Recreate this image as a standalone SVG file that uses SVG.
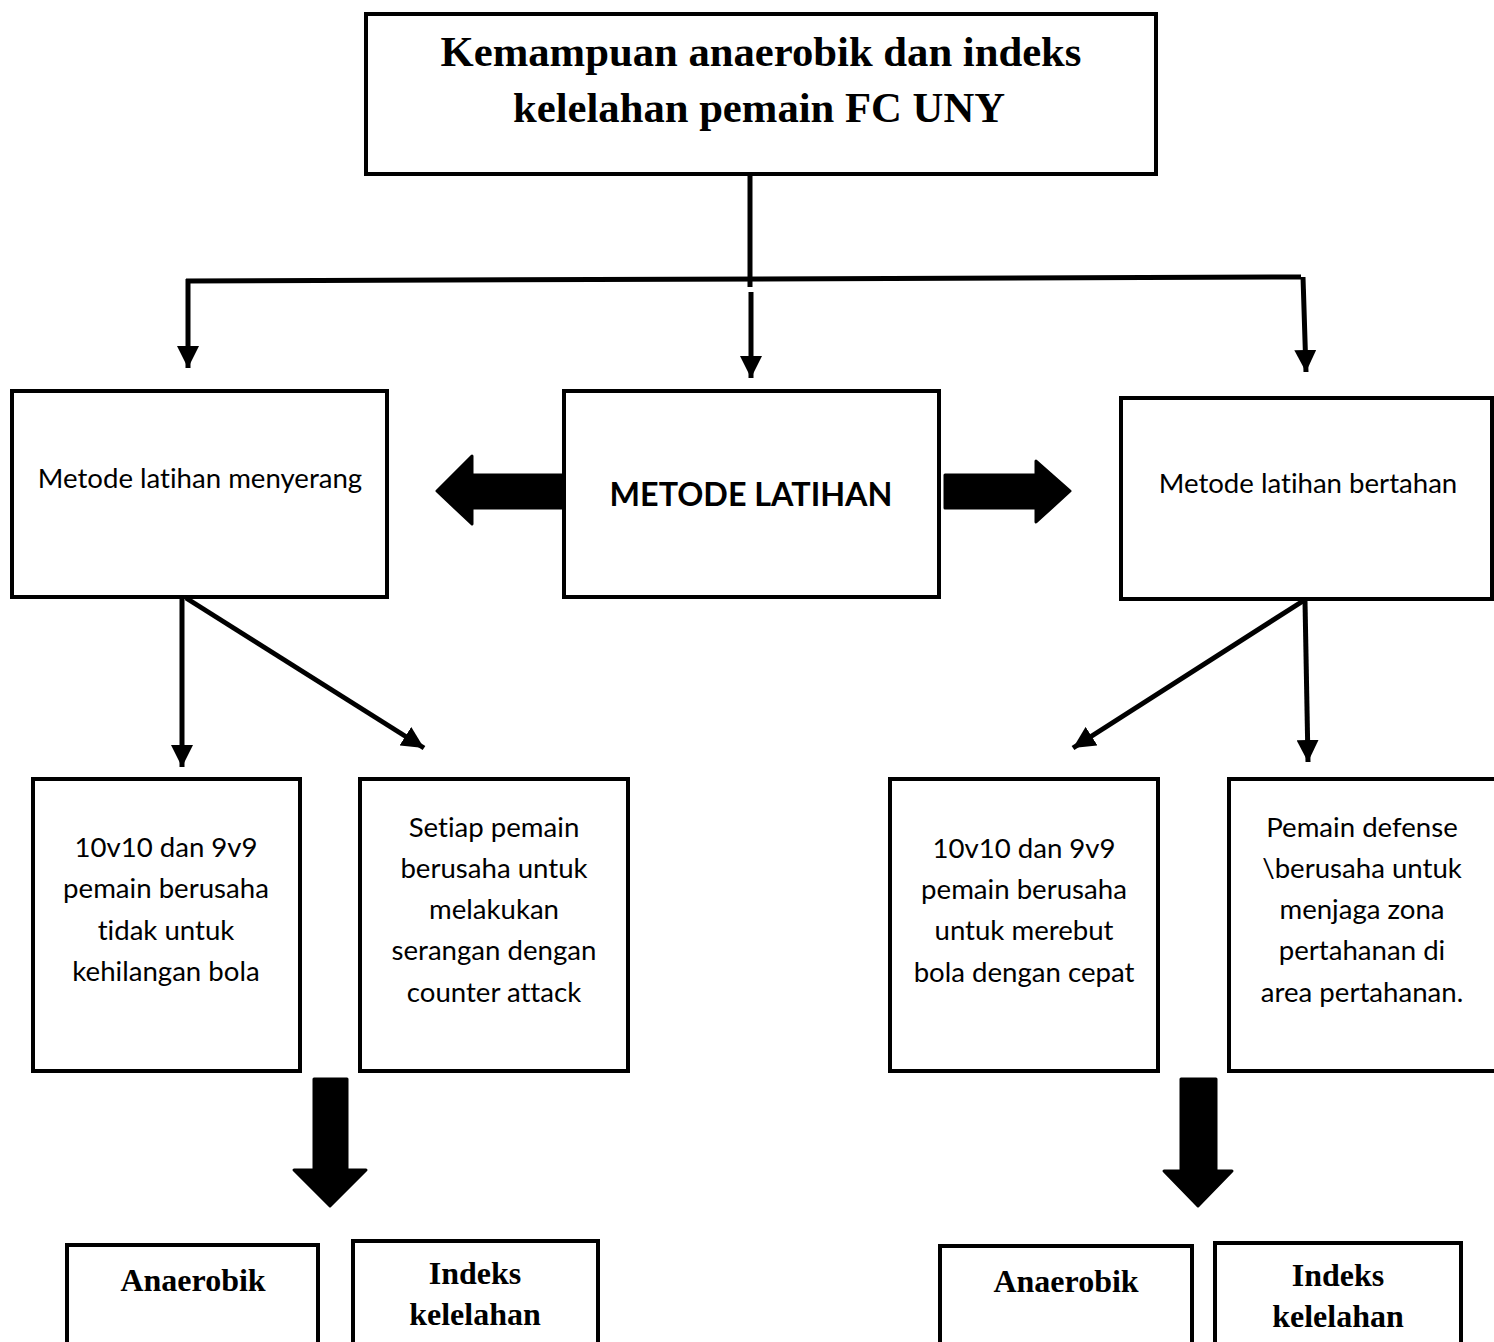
<svg xmlns="http://www.w3.org/2000/svg" width="1494" height="1342" viewBox="0 0 1494 1342">
<style>
.box{fill:#fff;stroke:#000;stroke-width:4}
.ln{fill:none;stroke:#000;stroke-width:5}
.blk{fill:#000;stroke:#000;stroke-width:3;stroke-linejoin:round}
.t{font-family:Lato,"Open Sans","Liberation Sans",sans-serif;font-size:27.6px;fill:#000;text-anchor:middle;font-variant-ligatures:none}
.tb{font-family:Lato,"Open Sans","Liberation Sans",sans-serif;font-size:32.3px;font-weight:bold;fill:#000;text-anchor:middle;font-variant-ligatures:none}
.s{font-family:"Liberation Serif","Times New Roman",serif;font-weight:bold;fill:#000;text-anchor:middle}
</style>
<defs>
<marker id="ah" viewBox="0 0 10 10" refX="10" refY="5" markerWidth="4.4" markerHeight="4.4" orient="auto" markerUnits="strokeWidth">
<path d="M0,0 L10,5 L0,10 z" fill="#000"/>
</marker>
</defs>
<rect width="1494" height="1342" fill="#fff"/>
<g id="connectors">
<line class="ln" x1="750" y1="174" x2="750" y2="287"/>
<line class="ln" x1="186" y1="281" x2="1301" y2="277"/>
<polyline class="ln" points="188,279 188,368" marker-end="url(#ah)"/>
<line class="ln" x1="751" y1="292" x2="751" y2="378" marker-end="url(#ah)"/>
<line class="ln" x1="1303" y1="277" x2="1306" y2="372" marker-end="url(#ah)"/>
<line class="ln" x1="182" y1="598" x2="182" y2="767" marker-end="url(#ah)"/>
<line class="ln" x1="186" y1="598" x2="424" y2="748" marker-end="url(#ah)"/>
<line class="ln" x1="1303" y1="601" x2="1073" y2="748" marker-end="url(#ah)"/>
<line class="ln" x1="1305" y1="601" x2="1308" y2="762" marker-end="url(#ah)"/>
<path class="blk" d="M563,475 L472,475 L472,456 L437,491 L472,524 L472,508 L563,508 z"/>
<path class="blk" d="M945,475 L1036,475 L1036,461 L1070,491 L1036,522 L1036,508 L945,508 z"/>
<path class="blk" d="M314,1079 L347,1079 L347,1170 L366,1170 L330,1206 L294,1170 L314,1170 z"/>
<path class="blk" d="M1181,1079 L1216,1079 L1216,1171 L1232,1171 L1198,1206 L1164,1171 L1181,1171 z"/>
</g>
<g id="title">
<rect class="box" x="366" y="14" width="790" height="160"/>
<text class="s" x="761" y="66" font-size="42.7">Kemampuan anaerobik dan indeks</text>
<text class="s" x="759" y="122" font-size="42.7">kelelahan pemain FC UNY</text>
</g>
<g id="menyerang">
<rect class="box" x="12" y="391" width="375" height="206"/>
<text class="t" x="200" y="488">Metode latihan menyerang</text>
</g>
<g id="metode">
<rect class="box" x="564" y="391" width="375" height="206"/>
<text class="tb" x="751" y="506">METODE LATIHAN</text>
</g>
<g id="bertahan">
<rect class="box" x="1121" y="398" width="371" height="201"/>
<text class="t" x="1308" y="493">Metode latihan bertahan</text>
</g>
<g id="boxA">
<rect class="box" x="33" y="779" width="267" height="292"/>
<text class="t" x="166" y="857">10v10 dan 9v9</text>
<text class="t" x="166" y="898">pemain berusaha</text>
<text class="t" x="166" y="940">tidak untuk</text>
<text class="t" x="166" y="981">kehilangan bola</text>
</g>
<g id="boxB">
<rect class="box" x="360" y="779" width="268" height="292"/>
<text class="t" x="494" y="837">Setiap pemain</text>
<text class="t" x="494" y="878">berusaha untuk</text>
<text class="t" x="494" y="919">melakukan</text>
<text class="t" x="494" y="960">serangan dengan</text>
<text class="t" x="494" y="1002">counter attack</text>
</g>
<g id="boxC">
<rect class="box" x="890" y="779" width="268" height="292"/>
<text class="t" x="1024" y="858">10v10 dan 9v9</text>
<text class="t" x="1024" y="899">pemain berusaha</text>
<text class="t" x="1024" y="940">untuk merebut</text>
<text class="t" x="1024" y="982">bola dengan cepat</text>
</g>
<g id="boxD">
<rect class="box" x="1229" y="779" width="267" height="292"/>
<text class="t" x="1362" y="837">Pemain defense</text>
<text class="t" x="1362" y="878">\berusaha untuk</text>
<text class="t" x="1362" y="919">menjaga zona</text>
<text class="t" x="1362" y="960">pertahanan di</text>
<text class="t" x="1362" y="1002">area pertahanan.</text>
</g>
<g id="anaerobik1">
<rect class="box" x="67" y="1245" width="251" height="110"/>
<text class="s" x="193" y="1291" font-size="32">Anaerobik</text>
</g>
<g id="indeks1">
<rect class="box" x="353" y="1241" width="245" height="114"/>
<text class="s" x="475" y="1284" font-size="32">Indeks</text>
<text class="s" x="475" y="1325" font-size="32">kelelahan</text>
</g>
<g id="anaerobik2">
<rect class="box" x="940" y="1246" width="252" height="110"/>
<text class="s" x="1066" y="1292" font-size="32">Anaerobik</text>
</g>
<g id="indeks2">
<rect class="box" x="1215" y="1243" width="246" height="114"/>
<text class="s" x="1338" y="1286" font-size="32">Indeks</text>
<text class="s" x="1338" y="1327" font-size="32">kelelahan</text>
</g>
</svg>
